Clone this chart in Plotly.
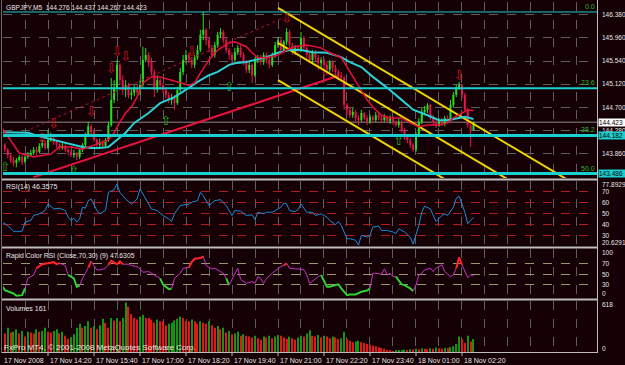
import plotly.graph_objects as go

W, H = 625, 365
BG = "#150005"
TXT = "#e6e6e6"
FONT = "Liberation Sans"

# ---------------- data (5-minute bars, bar 0 = 17 Nov 2008 13:00) ----------------
first_open = 144.15
closes = [
    144.01, 143.92, 143.82, 143.73, 143.68, 143.73, 143.79, 143.70, 143.79, 143.82,
    143.86, 143.92, 143.88, 143.99, 144.04, 143.95, 144.10, 144.13, 144.06, 144.01,
    143.95, 143.99, 143.92, 143.88, 143.82, 143.86, 143.79, 143.92, 144.01, 144.19,
    144.35, 144.24, 144.10, 144.01, 144.06, 143.99, 144.10, 144.37, 144.83, 145.05,
    145.47, 145.19, 145.01, 145.10, 144.92, 144.96, 145.05, 144.97, 145.10, 145.56,
    145.65, 145.52, 145.34, 145.01, 145.19, 145.10, 145.01, 144.92, 144.83, 144.86,
    144.77, 145.01, 145.34, 145.56, 145.65, 145.56, 145.47, 145.60, 145.74, 146.02,
    146.11, 145.92, 145.78, 145.65, 145.83, 146.02, 146.07, 145.92, 145.74, 145.65,
    145.56, 145.70, 145.78, 145.65, 145.52, 145.38, 145.47, 145.28, 145.56, 145.60,
    145.52, 145.65, 145.56, 145.47, 145.65, 145.83, 145.92, 145.74, 145.89, 146.07,
    145.83, 145.70, 145.78, 145.74, 145.96, 145.78, 145.65, 145.56, 145.70, 145.60,
    145.50, 145.56, 145.47, 145.38, 145.52, 145.41, 145.34, 145.28, 145.23, 144.74,
    144.65, 144.55, 144.61, 144.50, 144.46, 144.59, 144.50, 144.43, 144.52, 144.46,
    144.55, 144.50, 144.46, 144.52, 144.44, 144.50, 144.43, 144.37, 144.43, 144.28,
    144.15, 144.10, 144.01, 143.92, 144.19, 144.43, 144.61, 144.65, 144.74, 144.50,
    144.43, 144.35, 144.46, 144.39, 144.50, 144.46, 144.74, 144.92, 145.05, 145.10,
    144.92, 144.65, 144.37, 144.276, 144.423,
]
highs = [
    144.19, 144.04, 143.95, 143.86, 143.79, 143.77, 143.82, 143.82, 143.82, 143.88,
    143.92, 143.97, 143.97, 144.04, 144.10, 144.08, 144.28, 144.23, 144.17, 144.10,
    144.04, 144.04, 144.02, 143.95, 143.92, 143.92, 143.88, 143.95, 144.04, 144.23,
    144.43, 144.39, 144.28, 144.13, 144.12, 144.10, 144.13, 144.43, 145.23, 145.19,
    145.56, 145.50, 145.28, 145.19, 145.14, 145.05, 145.10, 145.10, 145.19, 145.80,
    145.78, 145.70, 145.60, 145.38, 145.28, 145.23, 145.14, 145.05, 144.97, 144.94,
    144.92, 145.07, 145.41, 145.65, 145.74, 145.70, 145.61, 145.65, 145.83, 146.11,
    146.44, 146.14, 145.96, 145.83, 145.89, 146.07, 146.14, 146.11, 145.96, 145.78,
    145.70, 145.78, 145.83, 145.83, 145.70, 145.56, 145.52, 145.50, 145.61, 145.65,
    145.65, 145.70, 145.69, 145.61, 145.70, 145.89, 145.98, 145.96, 145.92, 146.14,
    146.11, 145.87, 145.83, 145.83, 146.07, 146.00, 145.83, 145.70, 145.74, 145.74,
    145.65, 145.61, 145.60, 145.52, 145.56, 145.56, 145.47, 145.38, 145.34, 145.27,
    144.77, 144.70, 144.68, 144.65, 144.55, 144.65, 144.61, 144.55, 144.57, 144.55,
    144.61, 144.59, 144.54, 144.57, 144.54, 144.55, 144.54, 144.46, 144.50, 144.46,
    144.32, 144.19, 144.13, 144.04, 144.24, 144.50, 144.68, 144.72, 144.77, 144.76,
    144.55, 144.46, 144.50, 144.50, 144.54, 144.55, 144.83, 144.97, 145.10, 145.16,
    145.12, 144.96, 144.68, 144.39, 144.437,
]
lows = [
    143.97, 143.88, 143.77, 143.68, 143.62, 143.60, 143.70, 143.64, 143.66, 143.75,
    143.79, 143.82, 143.82, 143.86, 143.95, 143.92, 143.93, 144.06, 144.01, 143.95,
    143.92, 143.92, 143.88, 143.82, 143.79, 143.77, 143.73, 143.75, 143.88, 143.97,
    144.15, 144.19, 144.06, 143.97, 143.97, 143.95, 143.97, 144.06, 144.34, 144.77,
    144.97, 145.10, 144.92, 144.88, 144.86, 144.83, 144.90, 144.92, 144.92, 145.05,
    145.52, 145.43, 145.28, 144.88, 144.96, 145.01, 144.96, 144.86, 144.77, 144.74,
    144.65, 144.74, 144.97, 145.28, 145.50, 145.50, 145.41, 145.41, 145.56, 145.70,
    145.92, 145.83, 145.70, 145.60, 145.60, 145.78, 145.96, 145.87, 145.69, 145.56,
    145.50, 145.50, 145.65, 145.60, 145.47, 145.32, 145.32, 145.14, 145.25, 145.50,
    145.47, 145.47, 145.50, 145.41, 145.43, 145.60, 145.78, 145.70, 145.70, 145.83,
    145.78, 145.65, 145.65, 145.69, 145.70, 145.74, 145.60, 145.50, 145.50, 145.52,
    145.38, 145.41, 145.19, 145.28, 145.34, 145.34, 145.23, 145.19, 145.16, 144.65,
    144.55, 144.50, 144.50, 144.43, 144.37, 144.43, 144.46, 144.37, 144.39, 144.41,
    144.43, 144.46, 144.41, 144.43, 144.41, 144.39, 144.37, 144.34, 144.32, 144.23,
    144.10, 144.04, 143.95, 143.88, 143.88, 144.15, 144.39, 144.55, 144.59, 144.46,
    144.37, 144.32, 144.34, 144.35, 144.35, 144.43, 144.43, 144.70, 144.88, 145.01,
    144.86, 144.61, 144.32, 143.97, 144.267,
]
volumes = [
    262, 230, 300, 240, 250, 280, 230, 260, 190, 250, 240,
    230, 280, 250, 260, 300, 250, 240, 260, 280, 230,
    250, 200, 160, 180, 220, 300, 350, 300, 320, 380,
    300, 320, 280, 330, 410, 360, 300, 420, 390, 420,
    380, 420, 610, 560, 470, 420, 400, 440, 460, 420,
    420, 400, 360, 400, 380, 380, 330, 350, 360, 390,
    410, 440, 420, 380, 380, 400, 380, 350, 380, 360,
    350, 380, 330, 300, 320, 280, 300, 240, 260, 220,
    230, 250, 200, 220, 200, 190, 180, 200, 170, 150,
    190, 180, 200, 170, 190, 210, 200, 180, 160, 190,
    170, 150, 180,
    200, 190, 230, 270, 200, 190, 210, 180, 200, 190,
    170, 190, 180, 160, 170, 250, 160, 140, 120, 130,
    140, 120, 110, 100, 90, 80, 70, 60, 50, 40,
    20, 15, 10, 15, 20, 25, 30, 25, 35, 30,
    40, 35, 45, 40, 35, 45, 40, 55, 45, 40,
    50, 45, 60, 70, 100, 190, 160, 110, 200, 130,
    161,
]

# moving averages (read at selected bars)
ma_red_bars = [0, 6, 11, 17, 20, 24, 28, 31, 34, 37, 39, 41, 43, 45, 47, 49, 52, 55, 59, 62,
               65, 67, 69, 72, 75, 79, 81, 85, 87, 89, 92, 96, 99, 102, 106, 111, 114, 118, 120, 123,
               126, 127, 129, 132, 135, 139, 142, 145, 148, 152, 155, 157, 160, 162, 164]
ma_red_vals = [144.32, 143.86, 143.79, 143.84, 143.97, 143.97, 143.93, 143.99, 144.04, 144.10,
               144.23, 144.43, 144.59, 144.70, 144.88, 145.14, 145.25, 145.25, 145.19, 145.14,
               145.10, 145.14, 145.32, 145.56, 145.74, 145.87, 145.89, 145.80, 145.69, 145.60,
               145.60, 145.65, 145.74, 145.80, 145.83, 145.78, 145.69, 145.60, 145.43, 145.19,
               144.92, 144.83, 144.70, 144.55, 144.50, 144.50, 144.41, 144.34, 144.37, 144.37,
               144.41, 144.50, 144.59, 144.65, 144.63]
ma_cyan_bars = [0, 4, 9, 14, 18, 23, 28, 31, 34, 37, 39, 43, 46, 51, 55, 60, 65, 68, 72, 75,
                79, 81, 85, 88, 92, 96, 100, 104, 108, 113, 118, 121, 125, 129, 134, 139, 143, 148, 152, 155,
                159, 161, 164]
ma_cyan_vals = [144.24, 144.24, 144.23, 144.15, 144.10, 144.04, 143.97, 143.95, 143.95, 143.97,
                144.06, 144.23, 144.41, 144.59, 144.77, 144.88, 145.05, 145.16, 145.28, 145.34,
                145.47, 145.50, 145.52, 145.56, 145.61, 145.69, 145.74, 145.74, 145.70, 145.69,
                145.61, 145.52, 145.43, 145.25, 145.05, 144.83, 144.65, 144.55, 144.46, 144.46,
                144.50, 144.52, 144.48]

# drawn objects
fib_levels = [146.435, 145.043, 144.182, 143.486]
fib_names = ["0.0", "23.6", "38.2", "50.0"]
bid_price = 144.423
trend_red_bars, trend_red_prices = [11, 117], [143.42, 145.27]
trend_dot_bars, trend_dot_prices = [10, 98], [144.30, 146.33]
channel_bars = [96, 200]
channel_top = [146.51, 143.27]
channel_mid = [145.87, 142.63]
channel_low = [145.19, 141.95]

frac_dn_bars = [14, 18, 31, 38, 40, 43, 66, 99, 159]
frac_dn_prices = [144.10, 144.37, 144.59, 145.38, 145.69, 145.60, 145.69, 146.29, 145.25]
frac_up_bars = [1, 25, 57, 79, 138]
frac_up_prices = [143.60, 143.51, 144.43, 145.05, 144.06]

rsi_bars = [0, 2, 4, 7, 8, 10, 11, 13, 15, 16, 18, 20, 22, 23, 24, 25, 26, 27, 28, 29,
            30, 31, 33, 34, 36, 37, 39, 40, 41, 43, 45, 47, 48, 49, 51, 52, 54, 56, 58, 59,
            60, 62, 65, 66, 68, 69, 70, 72, 74, 76, 78, 80, 81, 83, 85, 87, 88, 89, 91, 92,
            94, 96, 97, 98, 99, 100, 102, 103, 104, 106, 108, 109, 111, 113, 114, 116, 117, 118, 120, 121,
            122, 123, 124, 125, 127, 128, 129, 131, 132, 134, 136, 137, 138, 140, 142, 143, 145, 146, 147, 149,
            150, 151, 153, 154, 155, 157, 158, 159, 160, 161, 162, 163, 164]
rsi_vals = [42.1, 39.2, 33.9, 33.9, 42.1, 43.6, 48.1, 49.6, 52.5, 58.4, 54.0, 54.6, 52.5, 46.6, 43.6, 45.7, 42.1, 45.1, 55.5, 54.6,
            61.4, 62.9, 52.5, 49.6, 52.5, 68.8, 71.2, 76.5, 68.8, 62.9, 58.4, 62.9, 71.8, 67.3, 58.4, 54.0, 52.5, 48.1, 45.1, 42.7,
            49.6, 57.0, 58.4, 59.9, 61.4, 68.8, 65.9, 57.0, 61.4, 62.3, 57.0, 48.1, 52.5, 52.0, 48.1, 48.7, 44.5, 51.0, 49.6, 51.0,
            51.0, 54.0, 55.5, 59.3, 58.4, 52.5, 51.6, 53.4, 58.4, 51.0, 51.0, 48.1, 49.6, 46.6, 43.6, 39.8, 42.7, 39.2, 27.3, 27.3,
            26.7, 25.9, 21.5, 30.3, 28.8, 30.3, 37.7, 38.6, 34.7, 34.7, 33.3, 31.8, 36.2, 33.3, 28.8, 22.5, 39.2, 51.0, 56.4, 54.0,
            48.1, 42.7, 48.1, 49.6, 48.1, 55.5, 63.5, 65.3, 58.4, 51.0, 40.7, 43.6, 46.36]

rapid_bars = [0, 1, 4, 5, 7, 8, 9, 11, 12, 14, 16, 18, 19, 20, 22, 23, 25, 26, 27, 28,
              29, 30, 31, 33, 34, 36, 37, 38, 40, 41, 42, 44, 45, 47, 48, 49, 51, 53, 54, 55,
              56, 58, 59, 60, 62, 63, 65, 66, 67, 69, 70, 71, 73, 74, 76, 77, 78, 79, 81, 82,
              83, 85, 87, 88, 89, 90, 91, 92, 94, 96, 97, 98, 99, 100, 102, 103, 105, 106, 107, 109,
              110, 111, 113, 114, 116, 117, 118, 120, 121, 123, 125, 127, 128, 129, 130, 132, 133, 134, 135, 136,
              137, 139, 140, 142, 143, 144, 145, 146, 147, 149, 150, 151, 153, 154, 156, 157, 158, 159, 160, 161,
              162, 163, 164]
rapid_vals = [27.9, 19.4, 13.0, 8.5, 9.8, 22.7, 42.0, 48.4, 61.4, 69.1, 71.0, 72.9, 69.1, 71.0, 66.5, 48.4, 42.0, 25.9, 27.9, 42.0,
              51.7, 62.7, 74.3, 58.1, 58.1, 61.4, 67.8, 75.5, 69.1, 74.3, 69.1, 69.1, 66.5, 64.4, 60.1, 53.6, 54.9, 48.4, 45.1, 42.0,
              30.4, 21.3, 22.7, 42.0, 51.7, 61.4, 62.7, 72.9, 79.4, 80.7, 83.9, 66.5, 60.1, 61.4, 54.9, 51.7, 42.0, 29.1, 51.7, 61.4,
              40.0, 32.4, 35.6, 32.4, 45.1, 42.0, 32.4, 42.0, 51.7, 60.1, 64.6, 66.5, 71.0, 61.4, 60.1, 60.1, 58.1, 48.4, 32.4, 42.0,
              45.1, 48.4, 25.9, 25.9, 29.1, 30.4, 22.7, 9.8, 11.1, 11.1, 16.3, 18.8, 22.7, 51.7, 51.7, 49.8, 60.1, 48.4, 51.7, 45.1,
              45.1, 30.4, 29.1, 22.7, 17.5, 29.1, 48.4, 51.7, 58.1, 61.4, 54.9, 61.4, 67.8, 54.9, 45.1, 48.4, 61.4, 82.0, 67.8, 54.9,
              43.2, 48.4, 47.63]
# colour state of each point: g = below 30 (green), r = above 70 (red), m = between (magenta)
rapid_state = list("ggggggmmmrrrrrmmgggm"
                   "mmrmmmmrrrrmmmmmmmmm"
                   "gggmmmmrrrrmmmmmmgmm"
                   "mmmmmmmmmmmmrmmmmmmm"
                   "mmgggggggggggmmmmmmm"
                   "mggggmmmmmmmmmmmmrrm"
                   "mmm")

time_label_bars = [0, 16, 32, 48, 64, 80, 96, 112, 128, 144, 160]
time_labels = ["17 Nov 2008", "17 Nov 14:20", "17 Nov 15:40", "17 Nov 17:00", "17 Nov 18:20",
               "17 Nov 19:40", "17 Nov 21:00", "17 Nov 22:20", "17 Nov 23:40", "18 Nov 01:00",
               "18 Nov 02:20"]
price_ticks = [146.380, 145.960, 145.540, 145.120, 144.700, 144.280, 143.860]

# ---------------- figure ----------------
def py(p):
    return 1 - p / H

def px(p):
    return p / W

fig = go.Figure()
n = len(closes)
opens = [first_open] + closes[:-1]
idx = list(range(n))
GREEN_C, RED_C = "#1fe01f", "#e0164a"

for sel, col in (([i for i in idx if closes[i] >= opens[i]], GREEN_C),
                 ([i for i in idx if closes[i] < opens[i]], RED_C)):
    xs, ys = [], []
    for i in sel:
        xs += [i, i, None]
        ys += [lows[i], highs[i], None]
    fig.add_trace(go.Scatter(x=xs, y=ys, mode="lines", line=dict(color=col, width=1),
                             xaxis="x", yaxis="y", hoverinfo="skip"))
    fig.add_trace(go.Bar(x=sel, y=[abs(closes[i] - opens[i]) for i in sel],
                         base=[min(closes[i], opens[i]) for i in sel], width=0.7,
                         marker=dict(color=col, line=dict(width=0)), xaxis="x", yaxis="y"))

# drawn lines
fig.add_trace(go.Scatter(x=trend_dot_bars, y=trend_dot_prices, mode="lines",
                         line=dict(color="#b0102c", width=1, dash="dot"), xaxis="x", yaxis="y"))
fig.add_trace(go.Scatter(x=trend_red_bars, y=trend_red_prices, mode="lines",
                         line=dict(color="#e8123e", width=2), xaxis="x", yaxis="y"))
for ch in (channel_top, channel_mid, channel_low):
    fig.add_trace(go.Scatter(x=channel_bars, y=ch, mode="lines",
                             line=dict(color="#ecd400", width=2), xaxis="x", yaxis="y"))

fig.add_trace(go.Scatter(x=ma_cyan_bars, y=ma_cyan_vals, mode="lines",
                         line=dict(color="#2ad0d4", width=2), xaxis="x", yaxis="y"))
fig.add_trace(go.Scatter(x=ma_red_bars, y=ma_red_vals, mode="lines",
                         line=dict(color="#e8103c", width=1.5), xaxis="x", yaxis="y"))

fig.add_trace(go.Scatter(x=frac_dn_bars, y=frac_dn_prices, mode="text", text=["⇩"] * len(frac_dn_bars),
                         textfont=dict(family="DejaVu Sans", size=13, color="#d0141e"),
                         xaxis="x", yaxis="y", cliponaxis=True))
fig.add_trace(go.Scatter(x=frac_up_bars, y=frac_up_prices, mode="text", text=["⇧"] * len(frac_up_bars),
                         textfont=dict(family="DejaVu Sans", size=13, color="#1eb01e"),
                         xaxis="x", yaxis="y", cliponaxis=True))

# RSI
fig.add_trace(go.Scatter(x=rsi_bars, y=rsi_vals, mode="lines",
                         line=dict(color="#1c8ad8", width=1), xaxis="x2", yaxis="y2"))

# Rapid color RSI: runs of same colour state
state_col = {"m": "#c832c8", "r": "#ff2424", "g": "#2ed22e"}
state_w = {"m": 1, "r": 2, "g": 2}
runs = []
for k, s in enumerate(rapid_state):
    if not runs or runs[-1][0] != s:
        runs.append([s, [k - 1] if k > 0 else []])
    runs[-1][1].append(k)
for s, ks in runs:
    fig.add_trace(go.Scatter(x=[rapid_bars[k] for k in ks], y=[rapid_vals[k] for k in ks], mode="lines",
                             line=dict(color=state_col[s], width=state_w[s]), xaxis="x3", yaxis="y3"))

# Volumes
vcol = ["#119611" if (i == 0 or volumes[i] > volumes[i - 1]) else "#e01818" for i in idx]
fig.add_trace(go.Bar(x=idx, y=volumes, width=0.38, marker=dict(color=vcol, line=dict(width=0)),
                     xaxis="x4", yaxis="y4"))

# ---------------- layout ----------------
X_DOM = [px(3), px(597)]
X_RANGE = [0.348, 206.96]
grid_x = list(range(0, 208, 8))
panels = {"": (2, 178), "2": (181, 246.5), "3": (249, 298.5), "4": (301, 352)}
y_ranges = {"": [143.404, 146.617], "2": [20.3, 79.0], "3": [3.4, 98.1], "4": [0, 630]}

layout = dict(width=W, height=H, margin=dict(l=0, r=0, t=0, b=0),
              paper_bgcolor=BG, plot_bgcolor=BG, showlegend=False, barmode="overlay",
              hovermode=False, font=dict(family=FONT, size=7, color=TXT))
for k, (top, bot) in panels.items():
    layout["xaxis" + k] = dict(domain=X_DOM, range=X_RANGE, anchor="y" + k, tickvals=grid_x,
                               showticklabels=False, showgrid=True, gridcolor="#5e5e5e", griddash="dash",
                               gridwidth=1, zeroline=False, showline=False, ticks="",
                               **({} if k == "" else {"matches": "x"}))
    layout["yaxis" + k] = dict(domain=[py(bot), py(top)], range=y_ranges[k], anchor="x" + k,
                               showticklabels=False, zeroline=False, showline=False, ticks="",
                               showgrid=False)
layout["yaxis"].update(tickvals=price_ticks, showgrid=True, gridcolor="#5e5e5e", griddash="dash")
layout["yaxis2"].update(tickvals=[30, 40, 50, 60, 70], showgrid=True, gridcolor="#b01c1c", griddash="dash")
layout["yaxis3"].update(tickvals=[30, 50, 70], showgrid=True, gridcolor="#9c9670", griddash="dash")
fig.update_layout(**layout)

shapes = []
for lvl, w in zip(fib_levels, [1, 2, 3, 3]):
    shapes.append(dict(type="line", xref="x domain", yref="y", x0=0, x1=1, y0=lvl, y1=lvl,
                       line=dict(color="#19cfd0", width=w), layer="above"))
shapes.append(dict(type="line", xref="x domain", yref="y", x0=0, x1=1, y0=bid_price, y1=bid_price,
                   line=dict(color="#8a8a8a", width=1), layer="below"))
for yy in (179.5, 247.5, 299.5):
    shapes.append(dict(type="line", xref="paper", yref="paper", x0=px(1), x1=px(597.5), y0=py(yy), y1=py(yy),
                       line=dict(color="#bcbcbc", width=2)))
shapes.append(dict(type="line", xref="paper", yref="paper", x0=px(1), x1=px(598), y0=py(352.5), y1=py(352.5),
                   line=dict(color="#bcbcbc", width=1)))
shapes.append(dict(type="line", xref="paper", yref="paper", x0=px(597.5), x1=px(597.5), y0=py(0), y1=py(353),
                   line=dict(color="#bcbcbc", width=1)))
shapes.append(dict(type="line", xref="paper", yref="paper", x0=px(1.5), x1=px(1.5), y0=py(0), y1=py(353),
                   line=dict(color="#6a6a6a", width=1)))
for b in time_label_bars[1:]:
    shapes.append(dict(type="line", xref="x4", yref="paper", x0=b, x1=b, y0=py(352.5), y1=py(356),
                       line=dict(color="#bcbcbc", width=1)))
fig.update_layout(shapes=shapes)

ann = []
def text(x, y, s, size=7, **kw):
    d = dict(x=x, y=y, text=s, showarrow=False, xanchor="left", yanchor="middle",
             font=dict(family=FONT, size=size, color=TXT))
    d.update(kw)
    ann.append(d)

# panel titles
text(px(4), py(7), "GBPJPY,M5  144.276 144.437 144.267 144.423", size=6.6, xref="paper", yref="paper")
text(px(4), py(187), "RSI(14) 46.3575", xref="paper", yref="paper")
text(px(4), py(256), "Rapid Color RSI (Close,70,30) (9) 47.6305", size=6.8, xref="paper", yref="paper")
text(px(4), py(308), "Volumes 161", xref="paper", yref="paper")
text(px(2), py(347), "FxPro MT4, © 2001-2008 MetaQuotes Software Corp.", size=8, xref="paper", yref="paper")

# fib labels
for lvl, nm in zip(fib_levels, fib_names):
    text(1, lvl, nm, xref="x domain", yref="y", xanchor="right", yanchor="bottom",
         font=dict(family=FONT, size=7, color="#2cba2c"))

# right axis labels
RX = px(599.5)
for v in price_ticks:
    text(RX, v, f"{v:.3f}", size=6.5, xref="paper", yref="y")
for v, bg in ((bid_price, "#ffffff"), (fib_levels[2], "#19cfd0"), (fib_levels[3], "#19cfd0")):
    text(px(598), v, f"{v:.3f}", xref="paper", yref="y", bgcolor=bg, borderpad=0, width=27, align="left",
         font=dict(family=FONT, size=6.5, color="#000000"))
for v, s, sh in ((77.8929, "77.8929", -2), (70, "70", 0), (60, "60", 0), (50, "50", 0), (40, "40", 0),
                 (30, "30", 0), (20.6291, "20.6291", 4)):
    text(RX, v, s, size=6.5, xref="paper", yref="y2", yshift=sh)
for v, s in ((70, "70"), (50, "50"), (30, "30")):
    text(RX, v, s, size=6.5, xref="paper", yref="y3")
# 0 and 100 lie just outside the visible range of the panel; MT4 prints them inside the frame
text(RX, py(252.5), "100", size=6.5, xref="paper", yref="paper")
text(RX, py(293.5), "0", size=6.5, xref="paper", yref="paper")
for v, s, sh in ((618, "618", -3), (0, "0", 4)):
    text(RX, v, s, size=6.5, xref="paper", yref="y4", yshift=sh)

# time labels (first one is the date at the left edge)
text(px(2), py(360), time_labels[0], xref="paper", yref="paper")
for b, s in zip(time_label_bars[1:], time_labels[1:]):
    text(b, py(360), s, xref="x4", yref="paper")

fig.update_layout(annotations=ann)
fig.write_html("out.html")
